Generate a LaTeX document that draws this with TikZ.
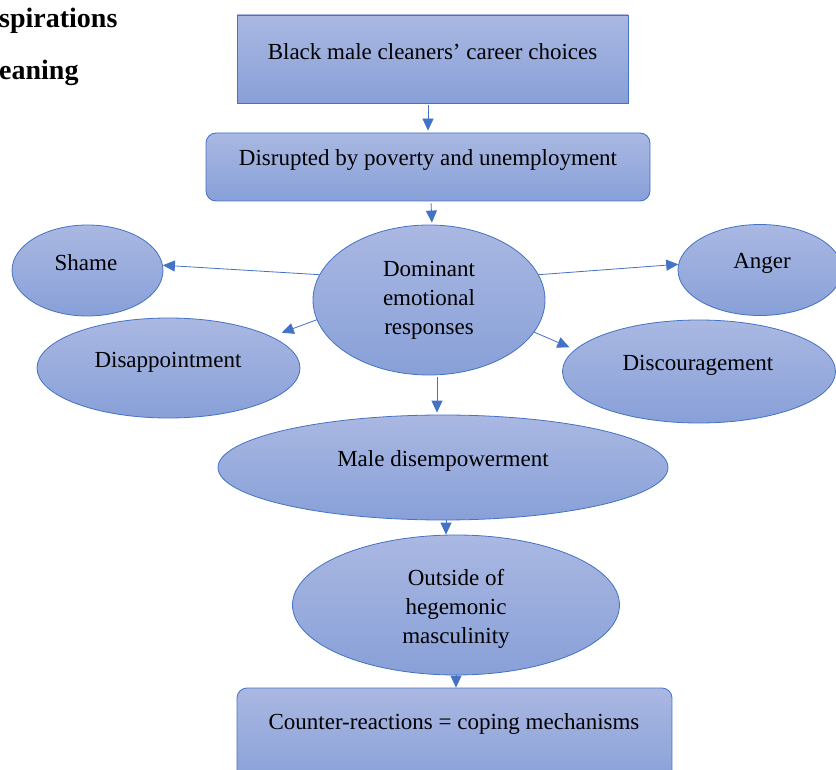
\documentclass[tikz,border=0pt]{standalone}
\usepackage{fontspec}
\setmainfont{Liberation Serif}
\usetikzlibrary{shapes.geometric,arrows.meta}
\definecolor{edge}{HTML}{4472C4}
\definecolor{shadetop}{RGB}{170,184,226}
\definecolor{shadebot}{RGB}{136,160,216}
\begin{document}
\begin{tikzpicture}[x=1pt,y=-1pt,
  filled/.style={top color=shadetop,bottom color=shadebot,draw=edge,line width=0.8pt,inner sep=0pt},
  oval/.style={filled,ellipse},
  boxed/.style={filled,rectangle},
  roundbox/.style={filled,rectangle,rounded corners=10pt},
  txt/.style={font=\fontsize{23}{29}\selectfont,align=center,inner sep=0pt},
  heading/.style={font=\fontsize{28}{32}\selectfont\bfseries,inner sep=0pt,anchor=west},
  link/.style={draw=edge,line width=0.8pt,-{Triangle[length=12pt,width=11pt]}}]
\useasboundingbox (0,0) rectangle (836,770);
\fill[white] (0,0) rectangle (836,770);
\begin{scope}
\clip (0,0) rectangle (836,770);

% running heading on the left
\node[heading] (head1) at (-1,21) {spirations};
\node[heading] (head2) at (-1,73) {eaning};

% boxes and ovals
\node[boxed, minimum width=391pt, minimum height=88pt] (career) at (432.5,59) {};
\node[roundbox, minimum width=444pt, minimum height=68pt] (disrupt) at (428,167) {};
\node[oval, minimum width=232pt, minimum height=150pt] (dom) at (429,300) {};
\node[oval, minimum width=151pt, minimum height=91pt] (shame) at (87.5,270.5) {};
\node[oval, minimum width=164pt, minimum height=91pt] (anger) at (760,270) {};
\node[oval, minimum width=263pt, minimum height=100pt] (disap) at (168.5,368) {};
\node[oval, minimum width=273pt, minimum height=103pt] (disc) at (699,371.5) {};
\node[oval, minimum width=450pt, minimum height=105pt] (male) at (443,467.5) {};
\node[oval, minimum width=327pt, minimum height=140pt] (outside) at (456,605) {};
\node[roundbox, minimum width=435pt, minimum height=96pt] (counter) at (454.5,736) {};

% texts
\node[txt] (career-t) at (432.5,52) {Black male cleaners’ career choices};
\node[txt] (disrupt-t) at (428,160) {Disrupted by poverty and unemployment};
\node[txt] (dom-t) at (429,300) {Dominant\\emotional\\responses};
\node[txt] (shame-t) at (86,263) {Shame};
\node[txt] (anger-t) at (762,263) {Anger};
\node[txt] (disap-t) at (168,362) {Disappointment};
\node[txt] (disc-t) at (698,365) {Discouragement};
\node[txt] (male-t) at (443,461) {Male disempowerment};
\node[txt] (outside-t) at (456,609) {Outside of\\hegemonic\\masculinity};
\node[txt] (counter-t) at (454,724) {Counter-reactions = coping mechanisms};

% connectors
\draw[link, shorten <=2pt, shorten >=2pt] (career.south -| disrupt.north) -- (disrupt.north);
\draw[link, shorten <=2pt, shorten >=2pt] ([xshift=3pt]disrupt.south) -- ([xshift=3pt]dom.north);
\draw[link] (dom.167) -- (shame.4);
\draw[link] (dom.13) -- (anger.176);
\draw[link, shorten >=11pt] (dom.190) -- (disap.17);
\draw[link, shorten >=6pt] (dom.343) -- (disc.170);
\draw[link, shorten <=2pt, shorten >=2pt] ([xshift=8pt]dom.south) -- ([xshift=8pt]dom.south |- male.north);
\draw[link] ([xshift=3pt]male.south) -- ([xshift=3pt]male.south |- outside.north);
\draw[link] (outside.south) -- (outside.south |- counter.north);
\end{scope}
\end{tikzpicture}
\end{document}
